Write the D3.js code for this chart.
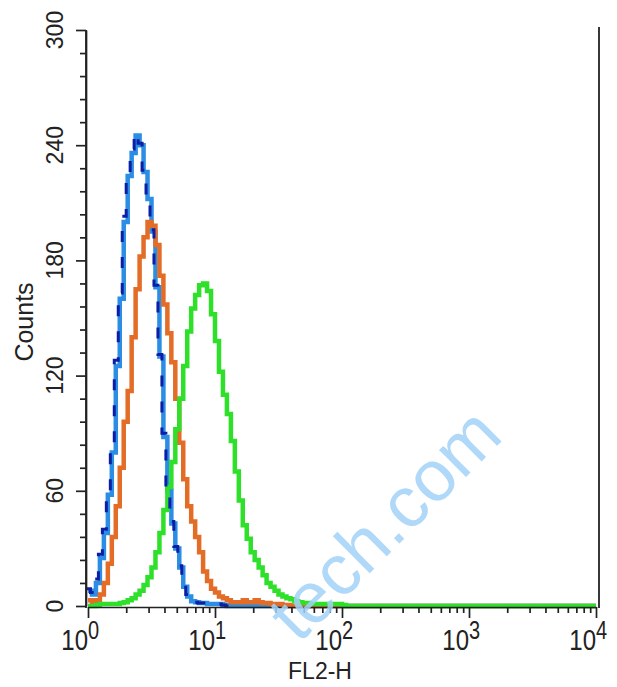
<!doctype html>
<html>
<head>
    <meta charset="UTF-8">
    <title>FL2-H histogram</title>
    <script src="https://d3js.org/d3.v7.min.js"></script>
    <style>
        body { margin: 0; background: #fff; }
        * { font-family: "Liberation Sans", Arial, sans-serif; }
    </style>
</head>
<body>
<svg id="chart" width="617" height="687"></svg>
<script>
    // histogram counts, one value per bin, bins are 1/32 of a decade starting at 10^0
    var binsPerDecade = 32;
    var blueCounts = [8,6,12,25,38,58,80,125,160,200,224,236,245,240,226,212,195,166,130,88,60,43,30,20,10,5,2.5,2,1.5,1.5,1,1,1,1,0.5];
    var navyCounts = [9,7,14,27,40,60,83,128,163,203,226,238,246,241,227,213,196,167,131,90,62,44,31,21,11,6,3,2,1.5,1.5,1,1,1,1,0.5];
    var orangeCounts = [3,2,3,6,12,22,36,52,72,96,112,140,165,182,192,200,198,188,172,157,142,127,108,85,66,52,44,36,28,18,13,9,7,5,4,3,2,2,2,3,2,2,3,2,1.5,1.5,1,1,1,0.5,0.5];
    var greenCounts = [0,0,0.5,1,1,1,1,1,1.5,2,3,4,6,8,11,15,20,28,38,50,62,75,92,108,125,143,155,162,167,168,164,152,138,122,110,100,86,70,55,42,35,28,24,20,16,12,10,8,6,5,4,3.5,2.5,2,1.5,1.5,1,1,1,1,1,1,1,1,0.5];

    var yMajor = [0,60,120,180,240,300];
    var yMinor = [12,24,36,48,72,84,96,108,132,144,156,168,192,204,216,228,252,264,276,288];
    var xMajor = [1,10,100,1000,10000];
    var xExponents = ["0","1","2","3","4"];

    var svg = d3.select("#chart");

    var x = d3.scaleLog().domain([1,10000]).range([88,596]);
    var y = d3.scaleLinear().domain([0,300]).range([606,30]);

    var nBins = 4 * binsPerDecade;

    // pad each series with zero counts up to the last bin
    function toSteps(counts) {
        var pts = [];
        for (var i = 0; i <= nBins; i++) {
            var v = i < counts.length ? counts[i] : 0;
            if (i == nBins) v = pts[pts.length-1][1];
            pts.push([Math.pow(10, i / binsPerDecade), v]);
        }
        return pts;
    }

    var step = d3.line()
        .x(function(d) { return x(d[0]); })
        .y(function(d) { return y(d[1]); })
        .curve(d3.curveStepAfter);

    svg.append("path")
        .datum(toSteps(blueCounts))
        .attr("fill", "none")
        .attr("stroke", "#2b8de4")
        .attr("stroke-width", 4.5)
        .attr("d", step);

    svg.append("path")
        .datum(toSteps(orangeCounts))
        .attr("fill", "none")
        .attr("stroke", "#e36c27")
        .attr("stroke-width", 4.5)
        .attr("d", step);

    svg.append("path")
        .datum(toSteps(greenCounts))
        .attr("fill", "none")
        .attr("stroke", "#2ee02a")
        .attr("stroke-width", 4.5)
        .attr("d", step);

    svg.append("path")
        .datum(toSteps(navyCounts).slice(0, 40))
        .attr("fill", "none")
        .attr("stroke", "#0b1ea6")
        .attr("stroke-width", 3)
        .attr("stroke-dasharray", "11,15")
        .attr("transform", "translate(-1.5,0)")
        .attr("d", step);

    // axes
    var axisColor = "#222";

    svg.append("g")
        .attr("transform", "translate(86,0)")
        .call(d3.axisLeft(y).tickValues(yMajor).tickSize(10).tickSizeOuter(0).tickFormat(""));
    svg.append("g")
        .attr("transform", "translate(86,0)")
        .call(d3.axisLeft(y).tickValues(yMinor).tickSize(6).tickFormat(""))
        .select(".domain").remove();

    var xMinor = [];
    xMajor.slice(0, 4).forEach(function(m) {
        [2,3,4,5,6,7,8,9].forEach(function(k) { xMinor.push(m * k); });
    });

    svg.append("g")
        .attr("transform", "translate(0,607)")
        .call(d3.axisBottom(x).tickValues(xMajor).tickSize(11).tickSizeOuter(0).tickFormat(""));
    svg.append("g")
        .attr("transform", "translate(0,607)")
        .call(d3.axisBottom(x).tickValues(xMinor).tickSize(6).tickFormat(""))
        .select(".domain").remove();

    svg.selectAll(".domain, .tick line")
        .attr("stroke", axisColor)
        .attr("stroke-width", 1.7);

    // y axis line from top down to the x axis, right border
    svg.append("line")
        .attr("x1", 86).attr("x2", 86)
        .attr("y1", 30).attr("y2", 608)
        .attr("stroke", axisColor).attr("stroke-width", 1.8);
    svg.append("line")
        .attr("x1", 599).attr("x2", 599)
        .attr("y1", 27).attr("y2", 608)
        .attr("stroke", axisColor).attr("stroke-width", 1.8);

    // y tick labels, rotated
    svg.selectAll(".ylab")
        .data(yMajor)
        .enter().append("text")
            .attr("class", "ylab")
            .attr("transform", function(d) { return "translate(63," + Math.max(y(d), 24) + ") rotate(-90)"; })
            .attr("text-anchor", "middle")
            .attr("font-size", 23)
            .attr("fill", "#222")
            .text(function(d) { return d; });

    // x tick labels 10^n
    var xl = svg.selectAll(".xlab")
        .data(xMajor)
        .enter().append("g")
            .attr("class", "xlab")
            .attr("transform", function(d) { return "translate(" + x(d) + ",650) scale(1,1.25)"; });
    xl.append("text")
        .attr("text-anchor", "end")
        .attr("x", 0)
        .attr("font-size", 24)
        .attr("fill", "#222")
        .text("10");
    xl.append("text")
        .attr("x", 0)
        .attr("y", -9)
        .attr("font-size", 20)
        .attr("fill", "#222")
        .text(function(d, i) { return xExponents[i]; });

    svg.append("text")
        .attr("x", 320)
        .attr("y", 679)
        .attr("text-anchor", "middle")
        .attr("font-size", 23)
        .attr("fill", "#222")
        .text("FL2-H");

    svg.append("text")
        .attr("transform", "translate(33,322) rotate(-90)")
        .attr("text-anchor", "middle")
        .attr("font-size", 25)
        .attr("fill", "#222")
        .text("Counts");

    // watermark
    svg.append("text")
        .attr("transform", "translate(505,438) rotate(-45)")
        .attr("text-anchor", "end")
        .attr("font-size", 72)
        .attr("fill", "#a3d2f7")
        .attr("opacity", 0.85)
        .text("tech.com");
</script>
</body>
</html>
